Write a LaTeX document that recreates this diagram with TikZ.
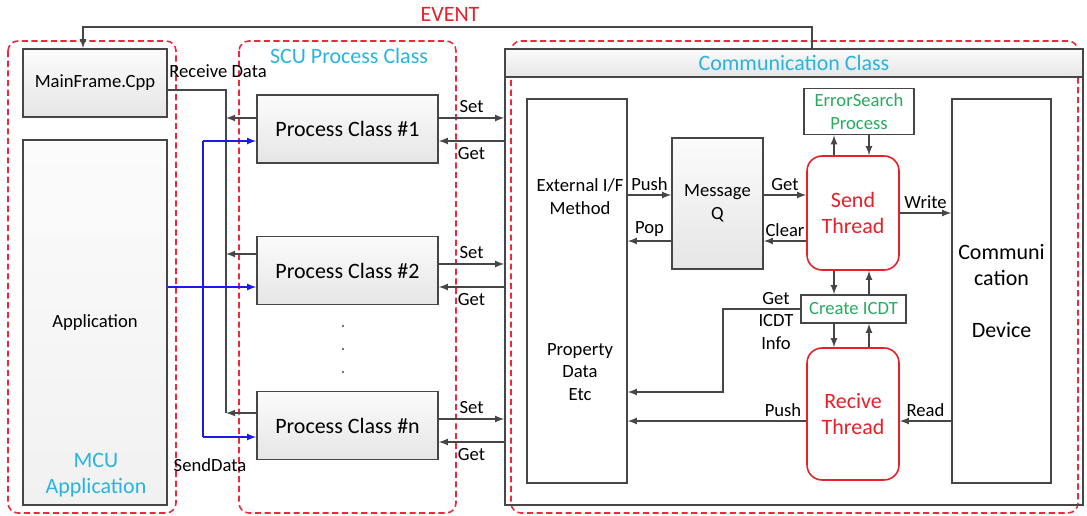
\documentclass[tikz,border=0pt]{standalone}
\usepackage{fontspec}
\setmainfont{Carlito}
\usetikzlibrary{calc,arrows,shapes}

\definecolor{linegray}{RGB}{70,70,70}
\definecolor{dashred}{RGB}{240,40,60}
\definecolor{titlecyan}{RGB}{40,180,222}
\definecolor{procgreen}{RGB}{40,170,95}
\definecolor{threadred}{RGB}{232,32,42}
\definecolor{sendblue}{RGB}{25,25,240}
\newcommand{\smallfont}{\fontsize{10.6}{13}\selectfont}
\newcommand{\bigfont}{\fontsize{12.5}{14.8}\selectfont}

\begin{document}
\begin{tikzpicture}[x=0.02cm, y=-0.02cm]

  \tikzstyle{graybox}=[draw=linegray,line width=0.9pt,top color=gray!3,bottom color=gray!20,inner sep=1mm,font=\smallfont,align=center]
  \tikzstyle{procbox}=[graybox,minimum width=3.62cm,minimum height=1.36cm,font=\bigfont]
  \tikzstyle{plainbox}=[draw=linegray,line width=0.9pt,fill=white,inner sep=1mm,align=center]
  \tikzstyle{greenbox}=[plainbox,text=procgreen,font=\smallfont]
  \tikzstyle{threadbox}=[draw=threadred,line width=0.9pt,rounded corners=0.3cm,fill=white,minimum width=1.84cm,text=threadred,font=\bigfont,align=center]
  \tikzstyle{classframe}=[draw=dashred,line width=0.9pt,dash pattern=on 3.5pt off 2pt,rounded corners=0.2cm]
  \tikzstyle{title}=[text=titlecyan,font=\bigfont,align=center]
  \tikzstyle{lab}=[font=\smallfont,inner sep=1pt,align=center]
  \tikzstyle{conn}=[draw=linegray,line width=0.8pt]
  \tikzstyle{pointer}=[conn,->,>=latex]
  \tikzstyle{bline}=[draw=sendblue,line width=0.8pt]
  \tikzstyle{bpointer}=[bline,->,>=latex]

  \useasboundingbox (0,0) rectangle (1087,516);

  % class frames
  \draw[classframe] (8,41) rectangle (176,513);
  \draw[classframe] (239,41) rectangle (456,513);
  \draw[classframe] (511,41) rectangle (1078,513);

  % MCU application
  \node[graybox,minimum width=2.88cm,minimum height=1.36cm] (main) at (95,83) {MainFrame.Cpp};
  \node[graybox,bottom color=gray!11,minimum width=2.88cm,minimum height=7.3cm] (app) at (95,322.5) {Application};
  \node[title] (mcutitle) at (96,475) {MCU\\Application};

  % SCU process classes
  \node[title] (scutitle) at (349,56) {SCU Process Class};
  \node[procbox] (p1) at (347.5,129) {Process Class \#1};
  \node[procbox] (p2) at (347.5,270.5) {Process Class \#2};
  \node[procbox] (pn) at (347.5,425.5) {Process Class \#n};
  \foreach \dy in {326,349,372}
    \fill[linegray] (343,\dy) circle (0.7pt);

  % communication class
  \node[draw=linegray,line width=0.9pt,minimum width=11.56cm,minimum height=9.12cm] (comm) at (794,277) {};
  \node[graybox,minimum width=11.56cm,minimum height=0.56cm,text=titlecyan,font=\bigfont] (commhead) at (794,63) {Communication Class};

  \node[plainbox,minimum width=2cm,minimum height=7.68cm] (ext) at (577,291) {};
  \node[lab] (exttop) at (580,197) {External I/F\\Method};
  \node[lab] (extbot) at (580,372) {Property\\Data\\Etc};
  \node[graybox,minimum width=1.82cm,minimum height=2.62cm] (msg) at (717.5,203.5) {Message\\Q};
  \node[threadbox,minimum height=2.28cm] (send) at (853,213) {Send\\Thread};
  \node[greenbox,minimum width=2.2cm,minimum height=0.86cm] (err) at (859,111.5) {ErrorSearch\\Process};
  \node[greenbox,minimum width=2.1cm,minimum height=0.56cm] (icdt) at (853.5,309) {Create ICDT};
  \node[threadbox,minimum height=2.64cm] (recv) at (853,414) {Recive\\Thread};
  \node[plainbox,minimum width=1.98cm,minimum height=7.68cm,font=\bigfont] (dev) at (1001.5,291) {Communi\\cation\\[14.8pt]Device};

  % event
  \node[text=threadred,font=\bigfont] (event) at (450,14) {EVENT};
  \coordinate (evtrow) at (450,27);
  \draw[pointer] ([xshift=0.36cm]commhead.north) |- (evtrow) -| ([xshift=-0.24cm]main.north);

  % receive data
  \coordinate (r1) at (226,118);
  \coordinate (r2) at (226,254);
  \coordinate (rn) at (226,413);
  \node[lab] (rcvlab) at (218,71) {Receive Data};
  \draw[conn] ([yshift=-0.14cm]main.east) -| (rn);
  \draw[pointer] (p1.west |- r1) -- (r1);
  \draw[pointer] (p2.west |- r2) -- (r2);
  \draw[pointer] (pn.west |- rn) -- (rn);

  % send data
  \coordinate (s1) at (203,141);
  \coordinate (s2) at (203,287);
  \coordinate (sn) at (203,437);
  \node[lab] (sndlab) at (210,465) {SendData};
  \draw[bline] (s1) -- (sn);
  \draw[bpointer] (s1) -- (p1.west |- s1);
  \draw[bpointer] (app.east |- s2) -- (p2.west |- s2);
  \draw[bpointer] (sn) -- (pn.west |- sn);

  % set / get
  \foreach \p/\ys/\yg in {p1/118/141, p2/264/287, pn/419/442} {
    \coordinate (setrow) at (470,\ys);
    \coordinate (getrow) at (470,\yg);
    \draw[pointer] (\p.east |- setrow) -- node[lab,above=1.5pt] {Set} (comm.west |- setrow);
    \draw[pointer] (comm.west |- getrow) -- node[lab,below=2pt] {Get} (\p.east |- getrow);
  }

  % inside communication class
  \coordinate (ra) at (700,195);
  \coordinate (rb) at (700,241);
  \coordinate (rw) at (925,213);
  \coordinate (rc) at (700,421);
  \coordinate (colA) at (834,300);
  \coordinate (colB) at (869,300);
  \coordinate (gcorner) at (723,392);

  \draw[pointer] (ext.east |- ra) -- node[lab,above=1pt] {Push} (msg.west |- ra);
  \draw[pointer] (msg.west |- rb) -- node[lab,above=1pt] {Pop} (ext.east |- rb);
  \draw[pointer] (msg.east |- ra) -- node[lab,above=1pt] {Get} (send.west |- ra);
  \draw[pointer] (send.west |- rb) -- node[lab,above=1pt] {Clear} (msg.east |- rb);
  \draw[pointer] (send.east |- rw) -- node[lab,above=1pt] {Write} (dev.west |- rw);

  \draw[pointer] (send.north -| colA) -- (err.south -| colA);
  \draw[pointer] (err.south -| colB) -- (send.north -| colB);
  \draw[pointer] (send.south -| colA) -- (icdt.north -| colA);
  \draw[pointer] (icdt.north -| colB) -- (send.south -| colB);
  \draw[pointer] (icdt.south -| colA) -- (recv.north -| colA);
  \draw[pointer] (recv.north -| colB) -- (icdt.south -| colB);

  \draw[pointer] (icdt.west) -| (gcorner) -- (ext.east |- gcorner);
  \node[lab] (icdtlab) at (776,321) {Get\\ICDT\\Info};

  \draw[pointer] (recv.west |- rc) -- node[lab,above=1pt,pos=0.13] {Push} (ext.east |- rc);
  \draw[pointer] (dev.west |- rc) -- node[lab,above=1pt] {Read} (recv.east |- rc);

\end{tikzpicture}
\end{document}
